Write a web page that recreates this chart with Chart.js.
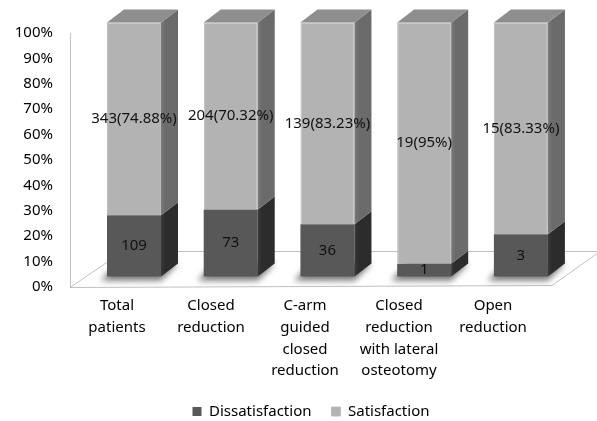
<!DOCTYPE html>
<html>
<head>
<meta charset="utf-8">
<script src="https://cdn.jsdelivr.net/npm/chart.js@4.4.0/dist/chart.umd.min.js"></script>
<style>
  html, body { margin: 0; padding: 0; background: #ffffff; }
  #wrap { width: 597px; height: 421px; }
</style>
</head>
<body>
<div id="wrap"><canvas id="chart" width="597" height="421"></canvas></div>
<script>
// Patient satisfaction by treatment group (counts per group)
const categories = [
  ['Total', 'patients'],
  ['Closed', 'reduction'],
  ['C-arm', 'guided', 'closed', 'reduction'],
  ['Closed', 'reduction', 'with lateral', 'osteotomy'],
  ['Open', 'reduction']
];
const dissatisfied = [109, 73, 36, 1, 3];
const satisfied = [343, 204, 139, 19, 15];
const satisfiedPct = ['74.88%', '70.32%', '83.23%', '95%', '83.33%'];
const yTicks = [0, 10, 20, 30, 40, 50, 60, 70, 80, 90, 100];
const seriesNames = ['Dissatisfaction', 'Satisfaction'];

// 100% stacked shares from the counts
const totals = dissatisfied.map((d, i) => d + satisfied[i]);
const dissShare = dissatisfied.map((d, i) => d / totals[i] * 100);
const satShare = satisfied.map((s, i) => s / totals[i] * 100);

const FONT = { family: '"Noto Sans", "Open Sans", sans-serif', size: 15 };

// 3D look: front faces are shifted back into the floor, with side and top faces added
const BAR_SCALE_X = 1.029;     // slight perspective spread of the bars
const BAR_SHIFT_X = 17;        // first bar front offset from its category centre
const BAR_SHIFT_Y = -10.5;     // bars stand behind the front edge of the floor
const DEPTH_X = 17, DEPTH_Y = -13;  // bar depth
const faceColors = [
  { edge: '#3a3a3a', side: '#2c2c2c', top: '#444444' },
  { edge: '#7a7a7a', side: '#6b6b6b', top: '#8e8e8e' }
];

function barTransform(chart) {
  const xs = chart.scales.x;
  const x0 = xs.getPixelForValue(0);
  return { a: BAR_SCALE_X, b: x0 + BAR_SHIFT_X - BAR_SCALE_X * x0, dy: BAR_SHIFT_Y };
}

const threeD = {
  id: 'threeD',
  beforeDatasetsDraw(chart) {
    const ctx = chart.ctx;
    const ys = chart.scales.y;
    const left = chart.chartArea.left, right = chart.chartArea.right;
    const y0 = ys.getPixelForValue(0), y100 = ys.getPixelForValue(100);

    ctx.save();
    ctx.strokeStyle = '#c0c0c0';
    ctx.lineWidth = 1;
    // wall edge
    ctx.beginPath();
    ctx.moveTo(left + 0.5, y100);
    ctx.lineTo(left + 0.5, y0);
    ctx.stroke();
    // floor
    ctx.beginPath();
    ctx.moveTo(left, y0 + 0.5);
    ctx.lineTo(right + 12, y0 - 1.5);
    ctx.lineTo(right + 60, y0 - 35.5);
    ctx.lineTo(left + 53, y0 - 35.5);
    ctx.closePath();
    ctx.stroke();
    ctx.restore();

    const t = barTransform(chart);
    // soft shadows at the bar feet
    ctx.save();
    ctx.transform(t.a, 0, 0, 1, t.b, t.dy);
    ctx.filter = 'blur(3px)';
    ctx.fillStyle = 'rgba(0,0,0,0.55)';
    chart.getDatasetMeta(0).data.forEach(bar => {
      const p = bar.getProps(['x', 'base', 'width'], true);
      const l = p.x - p.width / 2, r = p.x + p.width / 2, b = p.base;
      const dx = DEPTH_X / t.a;
      ctx.beginPath();
      ctx.moveTo(l - 6, b + 4);
      ctx.lineTo(r, b + 4);
      ctx.lineTo(r + dx, b + DEPTH_Y);
      ctx.lineTo(l + dx - 6, b + DEPTH_Y);
      ctx.closePath();
      ctx.fill();
    });
    ctx.restore();

    // bars are drawn by the library inside this transform
    ctx.save();
    ctx.transform(t.a, 0, 0, 1, t.b, t.dy);
  },
  afterDatasetsDraw(chart) {
    const ctx = chart.ctx;
    const t = barTransform(chart);
    const dx = DEPTH_X / t.a, dy = DEPTH_Y;
    const last = chart.data.datasets.length - 1;
    chart.data.datasets.forEach((ds, di) => {
      chart.getDatasetMeta(di).data.forEach(bar => {
        const p = bar.getProps(['x', 'y', 'base', 'width'], true);
        const l = p.x - p.width / 2, r = p.x + p.width / 2;
        const top = Math.min(p.y, p.base), bot = Math.max(p.y, p.base);
        // side face
        const g = ctx.createLinearGradient(r, 0, r + dx, 0);
        g.addColorStop(0, faceColors[di].edge);
        g.addColorStop(0.25, faceColors[di].side);
        g.addColorStop(1, faceColors[di].side);
        ctx.fillStyle = g;
        ctx.beginPath();
        ctx.moveTo(r, top);
        ctx.lineTo(r + dx, top + dy);
        ctx.lineTo(r + dx, bot + dy);
        ctx.lineTo(r, bot);
        ctx.closePath();
        ctx.fill();
        // top face on the upper segment
        if (di === last) {
          ctx.fillStyle = faceColors[di].top;
          ctx.beginPath();
          ctx.moveTo(l, top);
          ctx.lineTo(l + dx, top + dy);
          ctx.lineTo(r + dx, top + dy);
          ctx.lineTo(r, top);
          ctx.closePath();
          ctx.fill();
        }
      });
    });
    ctx.restore();

    // value labels on the front faces
    ctx.save();
    ctx.font = `${FONT.size}px ${FONT.family}`;
    ctx.fillStyle = '#111111';
    ctx.textAlign = 'center';
    ctx.textBaseline = 'middle';
    chart.data.datasets.forEach((ds, di) => {
      chart.getDatasetMeta(di).data.forEach((bar, i) => {
        const p = bar.getProps(['x', 'y', 'base'], true);
        const cx = t.a * p.x + t.b;
        const cy = (p.y + p.base) / 2 + t.dy;
        const txt = di === 0 ? String(dissatisfied[i]) : `${satisfied[i]}(${satisfiedPct[i]})`;
        ctx.fillText(txt, cx, cy);
      });
    });
    ctx.restore();
  }
};

new Chart(document.getElementById('chart'), {
  type: 'bar',
  data: {
    labels: categories,
    datasets: [
      {
        label: seriesNames[0],
        data: dissShare,
        backgroundColor: '#585858',
        borderColor: '#4e4e4e',
        borderWidth: 0,
        clip: false
      },
      {
        label: seriesNames[1],
        data: satShare,
        backgroundColor: '#b3b3b3',
        borderColor: '#bdbdbd',
        borderWidth: 1,
        clip: false
      }
    ]
  },
  options: {
    responsive: false,
    devicePixelRatio: 1,
    animation: false,
    categoryPercentage: 1,
    barPercentage: 0.5585,
    layout: { padding: { top: 33, left: 0, right: -25, bottom: -8 } },
    plugins: {
      tooltip: { enabled: false },
      legend: {
        position: 'bottom',
        labels: {
          boxWidth: 9,
          boxHeight: 9,
          padding: 20,
          color: '#000000',
          font: FONT
        }
      }
    },
    scales: {
      x: {
        stacked: true,
        grid: { display: false, drawTicks: false },
        border: { display: false },
        ticks: {
          color: '#000000',
          font: { ...FONT, lineHeight: 1.45 },
          maxRotation: 0,
          autoSkip: false,
          padding: 8
        },
        afterFit(s) { s.height = 97; }
      },
      y: {
        stacked: true,
        min: 0,
        max: 100,
        afterBuildTicks(s) { s.ticks = yTicks.map(v => ({ value: v })); },
        grid: { display: false, drawTicks: false },
        border: { display: false },
        ticks: {
          color: '#000000',
          font: FONT,
          padding: 17,
          callback: v => v + '%'
        },
        afterFit(s) { s.width = 70; }
      },
      yRight: {
        position: 'right',
        grid: { display: false, drawTicks: false },
        border: { display: false },
        ticks: { display: false },
        afterFit(s) { s.width = 82; }
      }
    }
  },
  plugins: [threeD]
});
</script>
</body>
</html>
